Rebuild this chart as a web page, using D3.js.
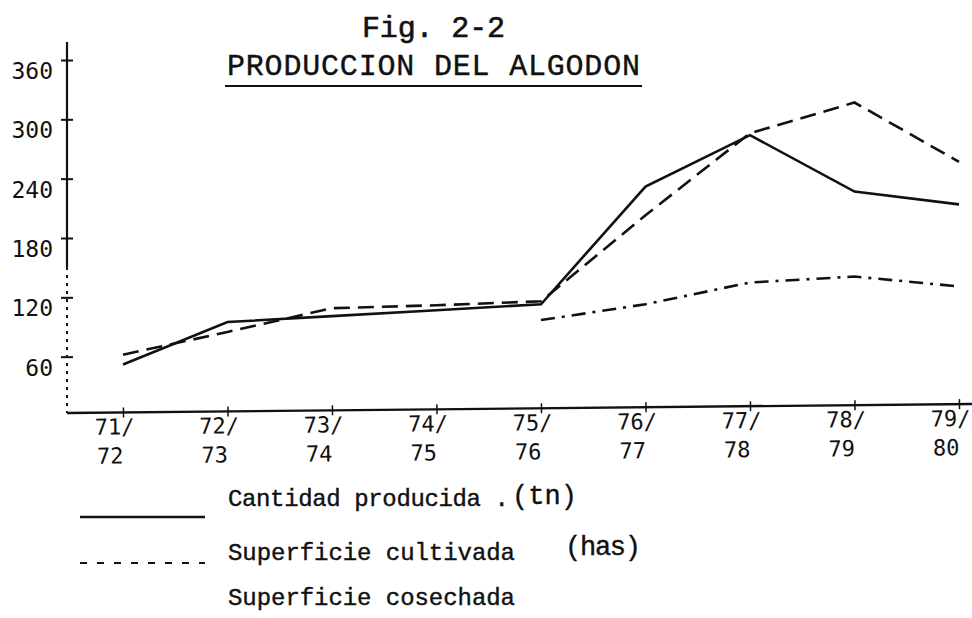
<!DOCTYPE html>
<html>
<head>
<meta charset="utf-8">
<script src="https://cdn.jsdelivr.net/npm/d3@7"></script>
<style>
  body { margin: 0; background: #fff; }
  #chart { width: 972px; height: 618px; }
</style>
</head>
<body>
<div id="chart"></div>
<script>
// campañas agrícolas
const campanias = ["71/72", "72/73", "73/74", "74/75", "75/76", "76/77", "77/78", "78/79", "79/80"];
// valores
const cantidadProducida = [52, 95, 101, 107, 113, 232, 284, 227, 214];
const superficieCultivada = [62, 85, 109, 112, 116, 203, 286, 317, 257];
const superficieCosechada = [null, null, null, null, 97, 113, 135, 141, 131];
const ticksY = [60, 120, 180, 240, 300, 360];

const width = 972, height = 618;
const ink = "#111";
const typeFont = "Liberation Mono";

const svg = d3.select("#chart").append("svg")
  .attr("width", width)
  .attr("height", height);

const x = d3.scalePoint()
  .domain(campanias)
  .range([123, 959]);

const y = d3.scaleLinear()
  .domain([0, 360])
  .range([416, 60]);

// Titulo
svg.append("text")
  .attr("x", 362).attr("y", 37)
  .attr("textLength", 143)
  .style("font-family", typeFont)
  .style("font-size", "30px")
  .style("fill", ink).style("stroke", ink).style("stroke-width", 0.6)
  .text("Fig. 2-2");

svg.append("text")
  .attr("x", 227).attr("y", 75)
  .attr("textLength", 413)
  .style("font-family", typeFont)
  .style("font-size", "30px")
  .style("fill", ink).style("stroke", ink).style("stroke-width", 0.4)
  .text("PRODUCCION DEL ALGODON");

svg.append("line")
  .attr("x1", 225).attr("x2", 642)
  .attr("y1", 86).attr("y2", 86)
  .attr("stroke", ink).attr("stroke-width", 2);

// Eje Y
const gy = svg.append("g")
  .attr("transform", "translate(67,0)")
  .call(d3.axisLeft(y).tickValues(ticksY).tickSize(6));
gy.select(".domain").remove();
gy.selectAll(".tick line").attr("x1", 6).attr("stroke", ink).attr("stroke-width", 2);
gy.selectAll(".tick text")
  .attr("x", -14).attr("y", 11)
  .style("font-family", "DejaVu Sans Mono")
  .style("font-size", "23px")
  .style("fill", ink);

gy.append("line")
  .attr("x1", 0).attr("x2", 0).attr("y1", 42).attr("y2", 267)
  .attr("stroke", ink).attr("stroke-width", 2.2);
gy.append("line")
  .attr("x1", 0).attr("x2", 0).attr("y1", 267).attr("y2", 413)
  .attr("stroke", ink).attr("stroke-width", 2)
  .attr("stroke-dasharray", "3,5");

// Eje X (ligeramente inclinado como en el original)
const gx = svg.append("g")
  .attr("transform", "translate(0,413) rotate(-0.57 67 0)")
  .call(d3.axisBottom(x).tickSize(5).tickFormat(""));
gx.select(".domain").remove();
gx.append("line")
  .attr("x1", 67).attr("x2", 972).attr("y1", 0).attr("y2", 0)
  .attr("stroke", ink).attr("stroke-width", 2.4);
gx.selectAll(".tick line").attr("y1", -5).attr("stroke", ink).attr("stroke-width", 1.5);
gx.selectAll(".tick text").remove();
const lbl = gx.selectAll(".tick").append("text")
  .attr("text-anchor", "start")
  .style("font-family", "DejaVu Sans Mono")
  .style("font-size", "22px")
  .style("fill", ink);
lbl.append("tspan").attr("x", -29).attr("y", 22).text(d => d.split("/")[0] + "/");
lbl.append("tspan").attr("x", -27).attr("y", 51).text(d => d.split("/")[1]);

// Lineas
const line = d3.line()
  .defined(d => d.v != null)
  .x(d => x(d.c))
  .y(d => y(d.v));

const series = [
  { valores: cantidadProducida, dash: null },
  { valores: superficieCultivada, dash: "16,8" },
  { valores: superficieCosechada, dash: "14,7,3,7" }
];

series.forEach(s => {
  svg.append("path")
    .datum(campanias.map((c, i) => ({ c, v: s.valores[i] })))
    .attr("fill", "none")
    .attr("stroke", ink)
    .attr("stroke-width", 2.6)
    .attr("stroke-dasharray", s.dash)
    .attr("d", line);
});

// Leyenda
const legendFont = sel => sel
  .style("font-family", typeFont)
  .style("font-size", "24px")
  .style("fill", ink).style("stroke", ink).style("stroke-width", 0.4);

svg.append("line")
  .attr("x1", 80).attr("x2", 205).attr("y1", 517).attr("y2", 517)
  .attr("stroke", ink).attr("stroke-width", 2.6);
svg.append("line")
  .attr("x1", 80).attr("x2", 205).attr("y1", 563).attr("y2", 563)
  .attr("stroke", ink).attr("stroke-width", 2.2)
  .attr("stroke-dasharray", "7,10");

svg.append("text").attr("x", 228).attr("y", 506).attr("textLength", 281)
  .call(legendFont).text("Cantidad producida .");
svg.append("text").attr("x", 512).attr("y", 504).attr("textLength", 65)
  .call(legendFont).style("font-size", "27px").text("(tn)");

svg.append("text").attr("x", 228).attr("y", 560).attr("textLength", 287)
  .call(legendFont).text("Superficie cultivada");
svg.append("text").attr("x", 565).attr("y", 555).attr("textLength", 76)
  .call(legendFont).style("font-size", "27px").text("(has)");

svg.append("text").attr("x", 228).attr("y", 605).attr("textLength", 287)
  .call(legendFont).text("Superficie cosechada");
</script>
</body>
</html>
